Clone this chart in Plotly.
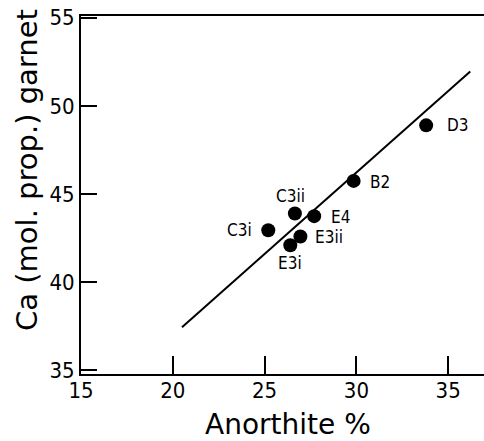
import plotly.graph_objects as go

samples = ["D3", "B2", "C3ii", "E4", "C3i", "E3ii", "E3i"]
anorthite = [33.8, 29.85, 26.65, 27.7, 25.2, 26.95, 26.4]
ca_garnet = [48.9, 45.75, 43.9, 43.75, 42.95, 42.6, 42.1]

fit_x = [20.5, 36.2]
fit_y = [37.45, 51.95]

x_ticks = [15, 20, 25, 30, 35]
y_ticks = [35, 40, 45, 50, 55]

x_title = "Anorthite %"
y_title = "Ca (mol. prop.) garnet"

# label placement (style): anchor, xshift, yshift
label_style = {
    "D3": ("left", 19, 0),
    "B2": ("left", 14, -1),
    "E4": ("left", 15, -1),
    "E3ii": ("left", 13, -1),
    "C3i": ("right", -14, 0),
    "C3ii": ("center", -4, 18),
    "E3i": ("center", 0, -18),
}

font = "DejaVu Sans Condensed, DejaVu Sans, sans-serif"
title_font = "DejaVu Sans, sans-serif"

fig = go.Figure()
fig.add_trace(go.Scatter(x=fit_x, y=fit_y, mode="lines",
                         line=dict(color="black", width=2), hoverinfo="skip"))
fig.add_trace(go.Scatter(x=anorthite, y=ca_garnet, mode="markers",
                         marker=dict(color="black", size=14)))

for s, xv, yv in zip(samples, anorthite, ca_garnet):
    anchor, xs, ys = label_style[s]
    fig.add_annotation(x=xv, y=yv, text=s, showarrow=False, xanchor=anchor,
                       yanchor="middle", xshift=xs, yshift=ys,
                       font=dict(family=font, size=17, color="black"))

fig.add_annotation(x=0.514, y=-0.14, xref="paper", yref="paper", text=x_title,
                   showarrow=False, xanchor="center", yanchor="middle",
                   font=dict(family=title_font, size=28, color="black"))
fig.add_annotation(x=-0.134, y=0.57, xref="paper", yref="paper", text=y_title,
                   showarrow=False, xanchor="center", yanchor="middle", textangle=-90,
                   font=dict(family=title_font, size=29, color="black"))

fig.update_layout(
    width=484, height=441,
    margin=dict(l=81, r=0, t=16, b=67),
    paper_bgcolor="white", plot_bgcolor="white",
    showlegend=False,
    font=dict(family=font, color="black"),
)
fig.update_xaxes(range=[15, 36.95], tickvals=x_ticks, ticks="inside", ticklen=18,
                 tickwidth=2, tickcolor="black", showline=True, linecolor="black",
                 linewidth=2, mirror=True, showgrid=False, zeroline=False,
                 automargin=False, ticklabelstandoff=-4,
                 tickfont=dict(size=22, family=font))
fig.update_yaxes(range=[34.8, 55.1], tickvals=y_ticks, ticks="inside", ticklen=16,
                 tickwidth=2, tickcolor="black", showline=True, linecolor="black",
                 linewidth=2, showgrid=False, zeroline=False,
                 automargin=False, tickfont=dict(size=22, family=font))

fig.write_html("out.html", config={"displayModeBar": False},
               post_script="document.body.style.margin='0';document.body.style.overflow='hidden';")
